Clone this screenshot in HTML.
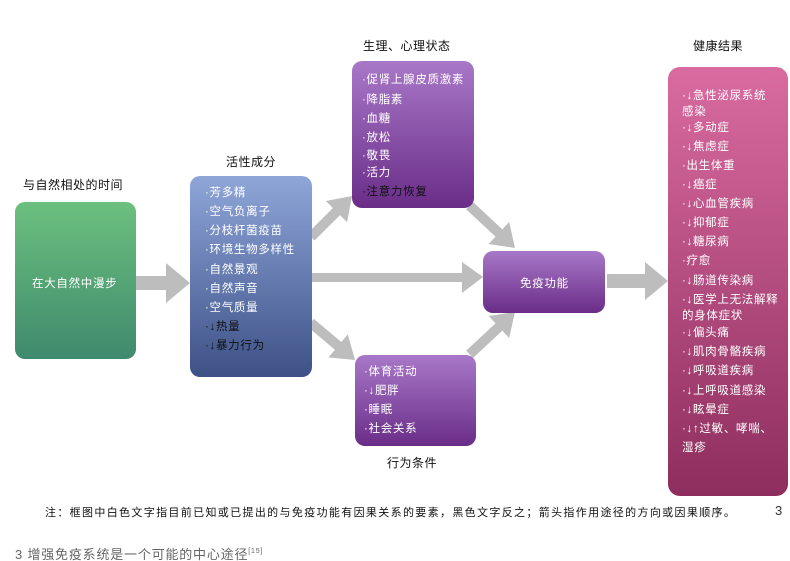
<!DOCTYPE html>
<html><head><meta charset="utf-8"><style>
body{margin:0;background:#fff;}
svg{display:block;font-family:"Liberation Sans","Noto Sans CJK SC",sans-serif;}
.w{fill:#fff;font-size:11.5px;letter-spacing:0.7px;}
.b{fill:#111;font-size:11.5px;letter-spacing:0.7px;}
.l{fill:#111;font-size:12px;letter-spacing:0.5px;}
</style></head><body>
<svg width="790" height="561" viewBox="0 0 790 561">
<defs>
<linearGradient id="g" x1="0" y1="0" x2="0" y2="1"><stop offset="0" stop-color="#6cc07e"/><stop offset="1" stop-color="#3f8a6d"/></linearGradient>
<linearGradient id="bl" x1="0" y1="0" x2="0" y2="1"><stop offset="0" stop-color="#8fa6d9"/><stop offset="1" stop-color="#3d5187"/></linearGradient>
<linearGradient id="p" x1="0" y1="0" x2="0" y2="1"><stop offset="0" stop-color="#a878c8"/><stop offset="1" stop-color="#6a2d88"/></linearGradient>
<linearGradient id="pk" x1="0" y1="0" x2="0" y2="1"><stop offset="0" stop-color="#d96ba0"/><stop offset="1" stop-color="#8e2e5e"/></linearGradient>
</defs>
<g fill="#bdbdbd">
<polygon points="136,276 166,276 166,263 190,283 166,303 166,290 136,290"/>
<polygon points="312,273 462,273 462,262 483,277 462,293 462,282 312,282"/>
<polygon points="607,274 645,274 645,262 668,281 645,300 645,288 607,288"/>
<g transform="translate(352,196) rotate(-45)"><polygon points="0,0 -22,-15 -22,-5 -58,-5 -58,5 -22,5 -22,15"/></g>
<g transform="translate(355,360) rotate(40)"><polygon points="0,0 -22,-15 -22,-5 -58,-5 -58,5 -22,5 -22,15"/></g>
<g transform="translate(515,248) rotate(43)"><polygon points="0,0 -22,-15 -22,-5 -62,-5 -62,5 -22,5 -22,15"/></g>
<g transform="translate(515,312) rotate(-43)"><polygon points="0,0 -22,-15 -22,-5 -62,-5 -62,5 -22,5 -22,15"/></g>
</g>

<rect x="15" y="202" width="121" height="157" rx="10" fill="url(#g)"/>
<text class="w" x="32" y="287">在大自然中漫步</text>
<text class="l" x="23" y="189">与自然相处的时间</text>

<rect x="190" y="176" width="122" height="201" rx="10" fill="url(#bl)"/>
<text class="l" x="226" y="166">活性成分</text>
<g class="w">
<text x="205" y="196">·芳多精</text>
<text x="205" y="215">·空气负离子</text>
<text x="205" y="234">·分枝杆菌疫苗</text>
<text x="205" y="253">·环境生物多样性</text>
<text x="205" y="273">·自然景观</text>
<text x="205" y="292">·自然声音</text>
<text x="205" y="311">·空气质量</text>
</g>
<g class="b">
<text x="205" y="330">·↓热量</text>
<text x="205" y="349">·↓暴力行为</text>
</g>

<rect x="352" y="61" width="122" height="147" rx="10" fill="url(#p)"/>
<text class="l" x="363" y="50">生理、心理状态</text>
<g class="w">
<text x="362" y="83">·促肾上腺皮质激素</text>
<text x="362" y="103">·降脂素</text>
<text x="362" y="122">·血糖</text>
<text x="362" y="141">·放松</text>
<text x="362" y="159">·敬畏</text>
<text x="362" y="176">·活力</text>
</g>
<text class="b" x="362" y="195">·注意力恢复</text>

<rect x="355" y="355" width="121" height="91" rx="10" fill="url(#p)"/>
<text class="w" x="364" y="375">·体育活动</text>
<text class="w" x="364" y="394">·↓肥胖</text>
<text class="w" x="364" y="413">·睡眠</text>
<text class="w" x="364" y="432">·社会关系</text>
<text class="l" x="387" y="467">行为条件</text>

<rect x="483" y="251" width="122" height="62" rx="10" fill="url(#p)"/>
<text class="w" x="520" y="287">免疫功能</text>

<rect x="668" y="67" width="120" height="429" rx="12" fill="url(#pk)"/>
<text class="l" x="693" y="50">健康结果</text>
<g class="w">
<text x="682" y="99">·↓急性泌尿系统</text>
<text x="682" y="115">感染</text>
<text x="682" y="131">·↓多动症</text>
<text x="682" y="150">·↓焦虑症</text>
<text x="682" y="169">·出生体重</text>
<text x="682" y="188">·↓癌症</text>
<text x="682" y="207">·↓心血管疾病</text>
<text x="682" y="226">·↓抑郁症</text>
<text x="682" y="245">·↓糖尿病</text>
<text x="682" y="264">·疗愈</text>
<text x="682" y="284">·↓肠道传染病</text>
<text x="682" y="303">·↓医学上无法解释</text>
<text x="682" y="319">的身体症状</text>
<text x="682" y="336">·↓偏头痛</text>
<text x="682" y="355">·↓肌肉骨骼疾病</text>
<text x="682" y="374">·↓呼吸道疾病</text>
<text x="682" y="394">·↓上呼吸道感染</text>
<text x="682" y="413">·↓眩晕症</text>
<text x="682" y="432">·↓↑过敏、哮喘、</text>
<text x="682" y="451">湿疹</text>
</g>

<text x="45" y="516" style="font-size:11px;letter-spacing:0.1px;fill:#111" textLength="690" lengthAdjust="spacing">注：框图中白色文字指目前已知或已提出的与免疫功能有因果关系的要素，黑色文字反之；箭头指作用途径的方向或因果顺序。</text>
<text x="775" y="515" style="font-size:13px;fill:#333">3</text>
<text x="15" y="559" style="font-size:13px;fill:#666;letter-spacing:0.8px">3 增强免疫系统是一个可能的中心途径<tspan style="font-size:7px" dy="-6">[15]</tspan></text>
</svg>
</body></html>
